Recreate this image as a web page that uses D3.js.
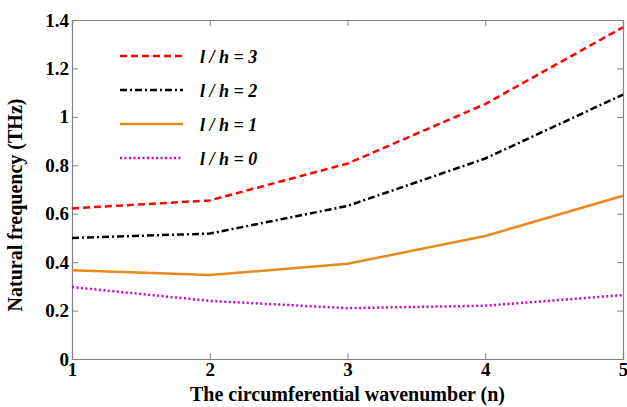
<!DOCTYPE html>
<html>
<head>
<script src="https://cdn.jsdelivr.net/npm/d3@7"></script>
<style>
  body { margin: 0; background: #fff; }
</style>
</head>
<body>
<div id="chart"></div>
<script>
// data
const waveNumbers = [1, 2, 3, 4, 5];
const lh3 = [0.622, 0.655, 0.807, 1.053, 1.370];
const lh2 = [0.500, 0.518, 0.632, 0.828, 1.092];
const lh1 = [0.367, 0.347, 0.393, 0.508, 0.674];
const lh0 = [0.297, 0.240, 0.210, 0.220, 0.264];
const yTicks = [0, 0.2, 0.4, 0.6, 0.8, 1, 1.2, 1.4];
const seriesNames = ["3", "2", "1", "0"];

const FONT = "'Liberation Serif', 'Times New Roman', Times, serif";
const W = 627, H = 407;
const margin = {top: 20, right: 4, bottom: 48, left: 72};
const width = W - margin.left - margin.right,
      height = H - margin.top - margin.bottom;

const svg = d3.select("#chart").append("svg")
    .attr("width", W).attr("height", H)
    .attr("font-family", FONT);
const g = svg.append("g")
    .attr("transform", "translate(" + margin.left + "," + margin.top + ")");

const x = d3.scaleLinear().domain([1, 5]).range([0, width]);
const y = d3.scaleLinear().domain([0, 1.4]).range([height, 0]);

const series = [
    {name: seriesNames[0], values: lh3, color: "#ff0000", dash: "7,4", width: 2.5},
    {name: seriesNames[1], values: lh2, color: "#000000", dash: "7,3,2,3", width: 2.5},
    {name: seriesNames[2], values: lh1, color: "#e68a1e", dash: null, width: 2.5},
    {name: seriesNames[3], values: lh0, color: "#cc00cc", dash: "2,2.5", width: 2.5}
];

// axes (ticks pointing inward)
const axisColor = "#808080";
function styleAxis(sel) {
    sel.attr("font-family", FONT);
    sel.select(".domain").attr("stroke", axisColor).attr("stroke-width", 1.2);
    sel.selectAll(".tick line").attr("stroke", axisColor);
    sel.selectAll(".tick text")
        .attr("fill", "#000")
        .style("font-family", FONT)
        .style("font-weight", "bold")
        .style("font-size", "19px");
}

g.append("g").attr("transform", "translate(0," + height + ")")
    .call(d3.axisBottom(x).tickValues(waveNumbers).tickSize(-6).tickPadding(3).tickFormat(d3.format("d")))
    .call(styleAxis);
g.append("g")
    .call(d3.axisLeft(y).tickValues(yTicks).tickSize(-6).tickPadding(3).tickFormat(d => d3.format("")(d)))
    .call(styleAxis);
g.append("g").attr("transform", "translate(" + width + ",0)")
    .call(d3.axisRight(y).tickValues(yTicks).tickSize(-6).tickFormat(""))
    .call(styleAxis);
g.append("g")
    .call(d3.axisTop(x).tickValues(waveNumbers).tickSize(-6).tickFormat(""))
    .call(styleAxis);

// lines
const line = d3.line()
    .x((d, i) => x(waveNumbers[i]))
    .y(d => y(d));

g.selectAll(".series")
    .data(series)
    .enter().append("path")
    .attr("class", "series")
    .attr("d", d => line(d.values))
    .attr("fill", "none")
    .attr("stroke", d => d.color)
    .attr("stroke-width", d => d.width)
    .attr("stroke-dasharray", d => d.dash);

// legend
const legend = g.append("g").attr("transform", "translate(48,36)");
const rows = legend.selectAll("g")
    .data(series).enter().append("g")
    .attr("transform", (d, i) => "translate(0," + (i * 34) + ")");
rows.append("line")
    .attr("x1", 0).attr("x2", 63)
    .attr("stroke", d => d.color)
    .attr("stroke-width", d => d.width)
    .attr("stroke-dasharray", d => d.dash);
rows.append("text")
    .attr("x", 80).attr("y", 7)
    .style("font-family", FONT)
    .style("font-weight", "bold")
    .style("font-style", "italic")
    .style("font-size", "18px")
    .text(d => "l / h = " + d.name);

// axis titles
svg.append("text")
    .attr("x", margin.left + width / 2).attr("y", H - 6)
    .attr("text-anchor", "middle")
    .style("font-family", FONT)
    .style("font-weight", "bold")
    .style("font-size", "20px")
    .text("The circumferential wavenumber (n)");
svg.append("text")
    .attr("transform", "translate(22,205) rotate(-90)")
    .attr("text-anchor", "middle")
    .style("font-family", FONT)
    .style("font-weight", "bold")
    .style("font-size", "20px")
    .text("Natural frequency (THz)");
</script>
</body>
</html>
